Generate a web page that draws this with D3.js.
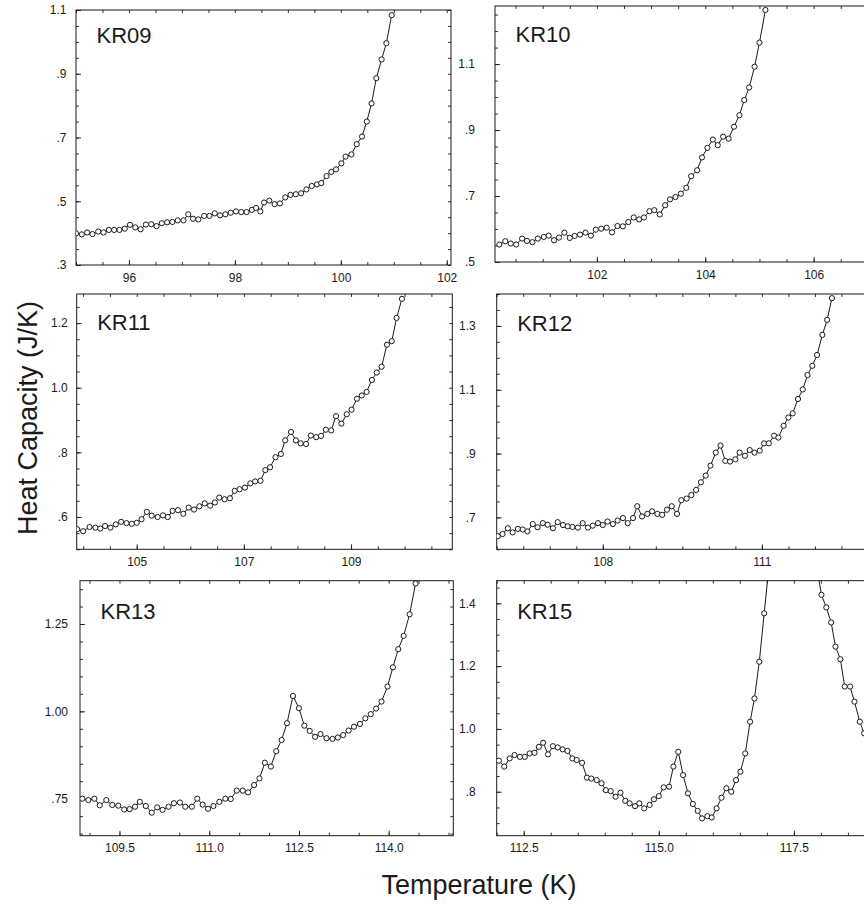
<!DOCTYPE html>
<html>
<head>
<meta charset="utf-8">
<script src="https://cdn.jsdelivr.net/npm/d3@7"></script>
<style>
  html, body { margin: 0; padding: 0; background: #fff; }
  svg { display: block; font-family: "Liberation Sans", Arial, Helvetica, sans-serif; }
</style>
</head>
<body>
<svg id="chart" width="864" height="907"></svg>
<script>
// ---- Heat capacity scans (temperature in K, heat capacity in J/K) ----
const kr09T = [95.00,95.11,95.21,95.31,95.42,95.52,95.62,95.72,95.82,95.92,96.02,96.12,96.22,96.32,96.42,96.52,96.62,96.72,96.82,96.92,97.03,97.12,97.21,97.31,97.42,97.52,97.62,97.72,97.82,97.92,98.02,98.12,98.22,98.32,98.40,98.48,98.55,98.65,98.75,98.85,98.95,99.05,99.15,99.25,99.35,99.45,99.55,99.63,99.73,99.82,99.91,100.01,100.09,100.20,100.30,100.40,100.49,100.58,100.67,100.77,100.86,100.96];
const kr09C = [0.399,0.396,0.402,0.397,0.405,0.402,0.410,0.410,0.410,0.414,0.426,0.418,0.412,0.427,0.428,0.422,0.431,0.434,0.435,0.440,0.440,0.459,0.445,0.443,0.454,0.454,0.462,0.456,0.459,0.464,0.468,0.466,0.466,0.473,0.479,0.468,0.496,0.502,0.491,0.493,0.512,0.520,0.522,0.525,0.537,0.548,0.553,0.557,0.579,0.592,0.600,0.619,0.640,0.647,0.679,0.703,0.750,0.807,0.886,0.945,0.996,1.084];

const kr10T = [100.20,100.31,100.41,100.51,100.62,100.71,100.81,100.91,101.02,101.11,101.21,101.30,101.40,101.50,101.59,101.69,101.79,101.89,101.98,102.08,102.18,102.28,102.38,102.48,102.58,102.68,102.78,102.87,102.97,103.06,103.16,103.26,103.35,103.45,103.55,103.65,103.74,103.85,103.94,104.04,104.14,104.23,104.33,104.43,104.53,104.63,104.72,104.81,104.91,105.00,105.11];
const kr10C = [0.553,0.563,0.556,0.553,0.571,0.564,0.560,0.571,0.576,0.580,0.566,0.574,0.589,0.573,0.579,0.583,0.589,0.580,0.598,0.601,0.604,0.590,0.609,0.608,0.621,0.635,0.629,0.635,0.654,0.657,0.644,0.672,0.690,0.697,0.707,0.725,0.760,0.778,0.817,0.846,0.871,0.854,0.880,0.874,0.910,0.945,0.991,1.029,1.092,1.165,1.264];

const kr11T = [103.89,104.00,104.12,104.23,104.32,104.41,104.51,104.61,104.71,104.81,104.91,105.00,105.09,105.19,105.28,105.39,105.49,105.58,105.67,105.77,105.87,105.97,106.07,106.17,106.27,106.37,106.46,106.54,106.64,106.74,106.83,106.92,107.02,107.12,107.21,107.31,107.40,107.49,107.59,107.69,107.77,107.88,107.97,108.06,108.16,108.25,108.35,108.44,108.53,108.63,108.72,108.82,108.92,109.01,109.11,109.20,109.29,109.39,109.48,109.57,109.67,109.76,109.85,109.95];
const kr11C = [0.562,0.556,0.569,0.567,0.564,0.572,0.567,0.577,0.585,0.581,0.579,0.582,0.593,0.616,0.604,0.600,0.605,0.600,0.619,0.621,0.610,0.629,0.623,0.633,0.642,0.635,0.645,0.660,0.655,0.658,0.681,0.686,0.691,0.704,0.710,0.712,0.745,0.754,0.785,0.795,0.837,0.863,0.837,0.828,0.826,0.852,0.847,0.851,0.870,0.868,0.912,0.889,0.918,0.932,0.966,0.976,0.987,1.024,1.047,1.065,1.133,1.144,1.216,1.275];

const kr12T = [106.02,106.11,106.21,106.30,106.40,106.49,106.58,106.68,106.77,106.87,106.96,107.06,107.15,107.25,107.34,107.43,107.53,107.62,107.72,107.81,107.91,108.00,108.09,108.19,108.28,108.38,108.47,108.57,108.65,108.74,108.84,108.93,109.03,109.12,109.21,109.30,109.40,109.48,109.58,109.67,109.76,109.85,109.94,110.03,110.13,110.22,110.31,110.40,110.50,110.58,110.68,110.77,110.86,110.96,111.04,111.13,111.23,111.31,111.41,111.50,111.58,111.68,111.77,111.86,111.95,112.04,112.14,112.23,112.32];
const kr12C = [0.641,0.648,0.666,0.653,0.664,0.662,0.656,0.679,0.669,0.682,0.677,0.666,0.685,0.676,0.672,0.670,0.668,0.682,0.668,0.674,0.682,0.676,0.687,0.679,0.690,0.698,0.682,0.698,0.735,0.703,0.711,0.719,0.711,0.708,0.724,0.735,0.711,0.754,0.759,0.770,0.786,0.810,0.831,0.862,0.903,0.925,0.877,0.875,0.882,0.903,0.893,0.911,0.903,0.909,0.932,0.932,0.956,0.950,0.987,1.013,1.026,1.071,1.101,1.146,1.175,1.209,1.272,1.319,1.387];

const kr13T = [108.88,108.98,109.08,109.17,109.28,109.38,109.48,109.58,109.67,109.76,109.84,109.94,110.04,110.13,110.22,110.32,110.41,110.51,110.60,110.71,110.80,110.89,110.98,111.07,111.17,111.27,111.36,111.46,111.56,111.65,111.75,111.84,111.93,112.03,112.12,112.21,112.30,112.40,112.50,112.59,112.68,112.77,112.86,112.96,113.06,113.15,113.24,113.33,113.42,113.52,113.61,113.70,113.79,113.88,113.98,114.07,114.16,114.25,114.35,114.45];
const kr13C = [0.750,0.746,0.750,0.731,0.746,0.732,0.730,0.719,0.720,0.727,0.741,0.729,0.710,0.725,0.718,0.727,0.737,0.739,0.727,0.727,0.750,0.733,0.721,0.729,0.741,0.750,0.749,0.773,0.773,0.768,0.789,0.808,0.853,0.842,0.886,0.918,0.966,1.044,1.009,0.959,0.944,0.927,0.935,0.923,0.921,0.925,0.932,0.945,0.956,0.964,0.980,0.992,1.008,1.028,1.071,1.126,1.178,1.216,1.278,1.366];

const kr15T = [112.04,112.14,112.24,112.33,112.43,112.52,112.61,112.70,112.78,112.86,112.95,113.04,113.13,113.22,113.31,113.40,113.48,113.58,113.67,113.75,113.85,113.94,114.02,114.11,114.20,114.29,114.38,114.46,114.56,114.64,114.73,114.83,114.91,115.00,115.09,115.19,115.27,115.36,115.45,115.54,115.63,115.72,115.80,115.90,115.98,116.07,116.16,116.25,116.34,116.43,116.51,116.60,116.69,116.77,116.86,116.95,117.04,117.13,117.22,117.31,117.40,117.49,117.58,117.66,117.75,117.84,117.92,118.01,118.10,118.19,118.27,118.36,118.44,118.54,118.62,118.72,118.80];
const kr15C = [0.899,0.880,0.906,0.917,0.911,0.911,0.922,0.924,0.943,0.956,0.919,0.945,0.941,0.935,0.930,0.906,0.901,0.892,0.845,0.842,0.837,0.827,0.805,0.802,0.784,0.797,0.771,0.763,0.754,0.763,0.747,0.758,0.776,0.786,0.814,0.816,0.880,0.927,0.853,0.795,0.761,0.739,0.715,0.722,0.718,0.747,0.781,0.811,0.800,0.837,0.864,0.922,1.023,1.097,1.214,1.368,1.520,1.780,2.050,2.300,2.500,2.600,2.450,2.200,1.950,1.720,1.520,1.427,1.387,1.339,1.262,1.222,1.135,1.135,1.087,1.023,0.986];

// ---- Tick values and their printed labels ----
const kr09XTicks = [96, 98, 100, 102];
const kr09XLabels = ["96", "98", "100", "102"];
const kr09YTicks = [0.3, 0.5, 0.7, 0.9, 1.1];
const kr09YLabels = [".3", ".5", ".7", ".9", "1.1"];

const kr10XTicks = [102, 104, 106];
const kr10XLabels = ["102", "104", "106"];
const kr10YTicks = [0.5, 0.7, 0.9, 1.1];
const kr10YLabels = [".5", ".7", ".9", "1.1"];

const kr11XTicks = [105, 107, 109];
const kr11XLabels = ["105", "107", "109"];
const kr11YTicks = [0.6, 0.8, 1.0, 1.2];
const kr11YLabels = [".6", ".8", "1.0", "1.2"];

const kr12XTicks = [108, 111];
const kr12XLabels = ["108", "111"];
const kr12YTicks = [0.7, 0.9, 1.1, 1.3];
const kr12YLabels = [".7", ".9", "1.1", "1.3"];

const kr13XTicks = [109.5, 111.0, 112.5, 114.0];
const kr13XLabels = ["109.5", "111.0", "112.5", "114.0"];
const kr13YTicks = [0.75, 1.00, 1.25];
const kr13YLabels = [".75", "1.00", "1.25"];

const kr15XTicks = [112.5, 115.0, 117.5];
const kr15XLabels = ["112.5", "115.0", "117.5"];
const kr15YTicks = [0.8, 1.0, 1.2, 1.4];
const kr15YLabels = [".8", "1.0", "1.2", "1.4"];

const panelNames = ["KR09", "KR10", "KR11", "KR12", "KR13", "KR15"];

// ---- Panel frames (pixel boxes) and axis ranges ----
const panels = [
  { name: panelNames[0], T: kr09T, C: kr09C, xt: kr09XTicks, xl: kr09XLabels, yt: kr09YTicks, yl: kr09YLabels,
    box: { left: 76, top: 10, width: 375, height: 255 }, xDom: [95.0, 102.08], yDom: [0.3, 1.1], yPad: 9.5, titleY: 42.5 },
  { name: panelNames[1], T: kr10T, C: kr10C, xt: kr10XTicks, xl: kr10XLabels, yt: kr10YTicks, yl: kr10YLabels,
    box: { left: 495, top: 6, width: 375, height: 256 }, xDom: [100.12, 107.04], yDom: [0.5, 1.276], yPad: 20, titleY: 41.5 },
  { name: panelNames[2], T: kr11T, C: kr11C, xt: kr11XTicks, xl: kr11XLabels, yt: kr11YTicks, yl: kr11YLabels,
    box: { left: 76.7, top: 294, width: 375.6, height: 255.3 }, xDom: [103.88, 110.89], yDom: [0.5, 1.29], yPad: 9, titleY: 330 },
  { name: panelNames[3], T: kr12T, C: kr12C, xt: kr12XTicks, xl: kr12XLabels, yt: kr12YTicks, yl: kr12YLabels,
    box: { left: 496.7, top: 294, width: 375, height: 255.3 }, xDom: [106.0, 113.07], yDom: [0.6, 1.4], yPad: 21, titleY: 330.5 },
  { name: panelNames[4], T: kr13T, C: kr13C, xt: kr13XTicks, xl: kr13XLabels, yt: kr13YTicks, yl: kr13YLabels,
    box: { left: 80, top: 580.7, width: 373.3, height: 255 }, xDom: [108.84, 115.08], yDom: [0.644, 1.374], yPad: 12, titleY: 619 },
  { name: panelNames[5], T: kr15T, C: kr15C, xt: kr15XTicks, xl: kr15XLabels, yt: kr15YTicks, yl: kr15YLabels,
    box: { left: 496.7, top: 580.7, width: 375, height: 255 }, xDom: [112.0, 118.94], yDom: [0.66, 1.472], yPad: 21, titleY: 619 }
];

const ink = "#1a1a1a";
const svg = d3.select("#chart");
svg.append("rect").attr("width", 864).attr("height", 907).attr("fill", "#fff");

panels.forEach((p) => {
  const { left, top, width, height } = p.box;
  const x = d3.scaleLinear().domain(p.xDom).range([0, width]);
  const y = d3.scaleLinear().domain(p.yDom).range([height, 0]);
  const g = svg.append("g").attr("transform", `translate(${left},${top})`);

  const clipId = "clip-" + p.name;
  g.append("clipPath").attr("id", clipId)
    .append("rect").attr("x", 0).attr("y", 0).attr("width", width).attr("height", height);

  // minor ticks every 0.5 K and 0.05 J/K, on all four sides, pointing inward
  const xMinor = d3.range(Math.ceil(p.xDom[0] * 2) / 2, p.xDom[1] + 1e-9, 0.5);
  const yMinor = d3.range(Math.ceil(p.yDom[0] * 20 - 1e-9) / 20, p.yDom[1] + 1e-9, 0.05);
  const styleAxis = sel => {
    sel.select(".domain").remove();
    sel.selectAll("line").attr("stroke", ink).attr("stroke-width", 0.9);
    sel.selectAll("text").attr("fill", ink).attr("font-size", 12)
      .attr("font-family", '"Liberation Sans", Arial, sans-serif');
  };
  g.append("g").attr("transform", `translate(0,${height})`)
    .call(d3.axisBottom(x).tickValues(xMinor).tickSize(-3).tickFormat("")).call(styleAxis);
  g.append("g")
    .call(d3.axisTop(x).tickValues(xMinor).tickSize(-3).tickFormat("")).call(styleAxis);
  g.append("g")
    .call(d3.axisLeft(y).tickValues(yMinor).tickSize(-3).tickFormat("")).call(styleAxis);
  g.append("g").attr("transform", `translate(${width},0)`)
    .call(d3.axisRight(y).tickValues(yMinor).tickSize(-3).tickFormat("")).call(styleAxis);

  // labelled major ticks
  g.append("g").attr("transform", `translate(0,${height})`)
    .call(d3.axisBottom(x).tickValues(p.xt).tickSize(-5).tickPadding(8)
      .tickFormat((d, k) => p.xl[k])).call(styleAxis);
  g.append("g")
    .call(d3.axisLeft(y).tickValues(p.yt).tickSize(-5).tickPadding(p.yPad)
      .tickFormat((d, k) => p.yl[k])).call(styleAxis);

  // frame
  g.append("rect").attr("x", 0).attr("y", 0).attr("width", width).attr("height", height)
    .attr("fill", "none").attr("stroke", ink).attr("stroke-width", 1);

  // measured curve: joined points with open circles
  const pts = p.T.map((t, k) => [t, p.C[k]]);
  const plot = g.append("g").attr("clip-path", `url(#${clipId})`);
  plot.append("path").datum(pts)
    .attr("fill", "none").attr("stroke", ink).attr("stroke-width", 1)
    .attr("d", d3.line().x(d => x(d[0])).y(d => y(d[1])));
  plot.selectAll("circle").data(pts).join("circle")
    .attr("cx", d => x(d[0])).attr("cy", d => y(d[1])).attr("r", 2.6)
    .attr("fill", "#fff").attr("stroke", ink).attr("stroke-width", 1);

  // run name
  svg.append("text").attr("x", left + 20.5).attr("y", p.titleY)
    .attr("font-size", 22).attr("fill", ink).text(p.name);
});

// shared axis titles
svg.append("text")
  .attr("transform", "translate(37,418) rotate(-90)")
  .attr("text-anchor", "middle").attr("font-size", 27).attr("fill", ink)
  .text("Heat Capacity (J/K)");
svg.append("text")
  .attr("x", 479).attr("y", 894)
  .attr("text-anchor", "middle").attr("font-size", 27).attr("fill", ink)
  .text("Temperature (K)");
</script>
</body>
</html>
